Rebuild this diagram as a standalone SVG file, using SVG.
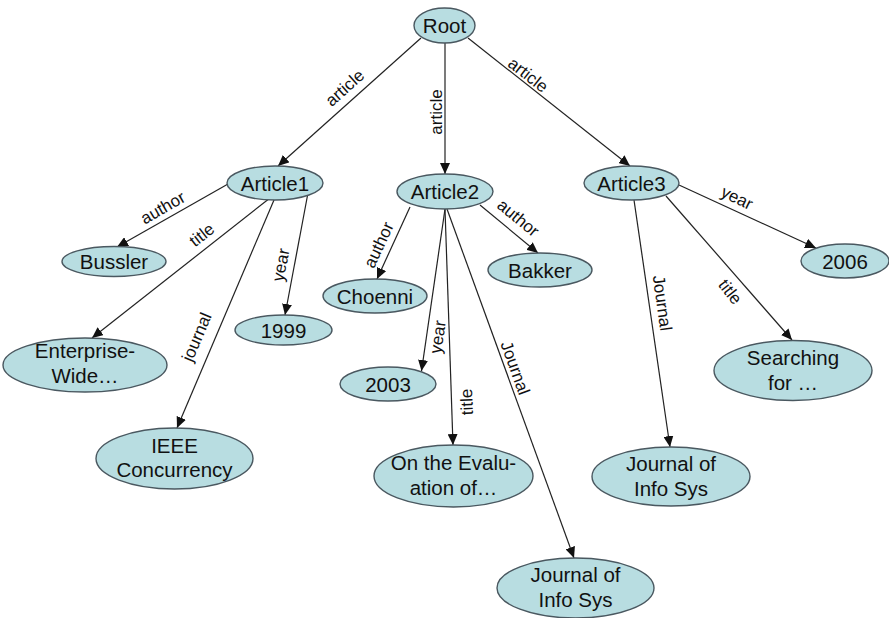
<svg xmlns="http://www.w3.org/2000/svg" width="889" height="618" viewBox="0 0 889 618">
<defs>
<marker id="arr" markerUnits="userSpaceOnUse" markerWidth="12" markerHeight="10" refX="11" refY="5" orient="auto">
<path d="M0,0 L11,5 L0,10 z" fill="#111"/>
</marker>
<style>
.n ellipse{fill:#b8dde1;stroke:#4a5860;stroke-width:1.4}
.n text{font-family:"Liberation Sans",Arial,sans-serif;font-size:20.5px;fill:#111;text-anchor:middle}
.e line{stroke:#222;stroke-width:1.2;marker-end:url(#arr)}
.e text{font-family:"Liberation Sans",Arial,sans-serif;font-size:17px;fill:#111;text-anchor:middle;dominant-baseline:central}
</style>
</defs>
<rect width="889" height="618" fill="#fff"/>
<g id="connectors" class="e">
<line x1="421" y1="38" x2="278" y2="166"/>
<line x1="445" y1="43" x2="445" y2="174"/>
<line x1="468" y1="38" x2="630" y2="166"/>
<line x1="228" y1="184" x2="117" y2="247"/>
<line x1="270" y1="198" x2="92" y2="338"/>
<line x1="274" y1="200" x2="177" y2="428"/>
<line x1="308" y1="193" x2="285" y2="315"/>
<line x1="410" y1="207" x2="377" y2="279"/>
<line x1="480" y1="205" x2="538" y2="253"/>
<line x1="445" y1="209" x2="421.5" y2="371"/>
<line x1="445" y1="209" x2="453" y2="445"/>
<line x1="447" y1="209" x2="574" y2="558"/>
<line x1="679" y1="185" x2="816" y2="248"/>
<line x1="666" y1="196" x2="792" y2="340"/>
<line x1="634" y1="200" x2="670" y2="447"/>
<text transform="translate(345,88) rotate(-41.8)">article</text>
<text transform="translate(436,112) rotate(-90)">article</text>
<text transform="translate(528,75) rotate(38)">article</text>
<text transform="translate(163,208) rotate(-29.8)">author</text>
<text transform="translate(202,235) rotate(-38)">title</text>
<text transform="translate(197,337) rotate(-67)">journal</text>
<text transform="translate(281,265) rotate(-79)">year</text>
<text transform="translate(379,245) rotate(-65)">author</text>
<text transform="translate(518,218) rotate(39.6)">author</text>
<text transform="translate(438,337) rotate(-81.7)">year</text>
<text transform="translate(467,402) rotate(-92)">title</text>
<text transform="translate(515,368) rotate(70)">Journal</text>
<text transform="translate(737,198) rotate(26)">year</text>
<text transform="translate(730,292) rotate(52)">title</text>
<text transform="translate(662,303) rotate(82)">Journal</text>
</g>
<g id="root" class="n"><ellipse cx="444.5" cy="25.5" rx="30.5" ry="17.5"/><text x="444.5" y="33">Root</text></g>
<g id="article1" class="n"><ellipse cx="275" cy="183" rx="48" ry="17"/><text x="275" y="190.5">Article1</text></g>
<g id="article2" class="n"><ellipse cx="445" cy="191.5" rx="48" ry="17.5"/><text x="445" y="199">Article2</text></g>
<g id="article3" class="n"><ellipse cx="631.5" cy="183" rx="47.5" ry="17"/><text x="631.5" y="190.5">Article3</text></g>
<g id="bussler" class="n"><ellipse cx="114" cy="261.5" rx="52" ry="15"/><text x="114" y="269">Bussler</text></g>
<g id="y1999" class="n"><ellipse cx="283.5" cy="330" rx="48.5" ry="15"/><text x="283.5" y="337.5">1999</text></g>
<g id="enterprise" class="n"><ellipse cx="85" cy="365" rx="82" ry="27"/><text x="85" y="358">Enterprise-</text><text x="85" y="383">Wide…</text></g>
<g id="ieee" class="n"><ellipse cx="174.5" cy="458.5" rx="78.5" ry="30.5"/><text x="174.5" y="453">IEEE</text><text x="174.5" y="477">Concurrency</text></g>
<g id="choenni" class="n"><ellipse cx="375" cy="296" rx="52" ry="17"/><text x="375" y="303.5">Choenni</text></g>
<g id="bakker" class="n"><ellipse cx="540" cy="270" rx="52" ry="17"/><text x="540" y="277.5">Bakker</text></g>
<g id="y2003" class="n"><ellipse cx="388" cy="384" rx="48" ry="17"/><text x="388" y="391.5">2003</text></g>
<g id="evaluation" class="n"><ellipse cx="453.5" cy="476" rx="79.5" ry="31"/><text x="453.5" y="470">On the Evalu-</text><text x="453.5" y="495">ation of…</text></g>
<g id="journal2" class="n"><ellipse cx="575.5" cy="588" rx="78.5" ry="30"/><text x="575.5" y="582">Journal of</text><text x="575.5" y="607">Info Sys</text></g>
<g id="y2006" class="n"><ellipse cx="845" cy="261" rx="44" ry="17"/><text x="845" y="268.5">2006</text></g>
<g id="searching" class="n"><ellipse cx="793" cy="370.5" rx="79" ry="30"/><text x="793" y="364.5">Searching</text><text x="793" y="389.5">for …</text></g>
<g id="journal3" class="n"><ellipse cx="671" cy="476.5" rx="79" ry="29.5"/><text x="671" y="470.5">Journal of</text><text x="671" y="495.5">Info Sys</text></g>
</svg>
